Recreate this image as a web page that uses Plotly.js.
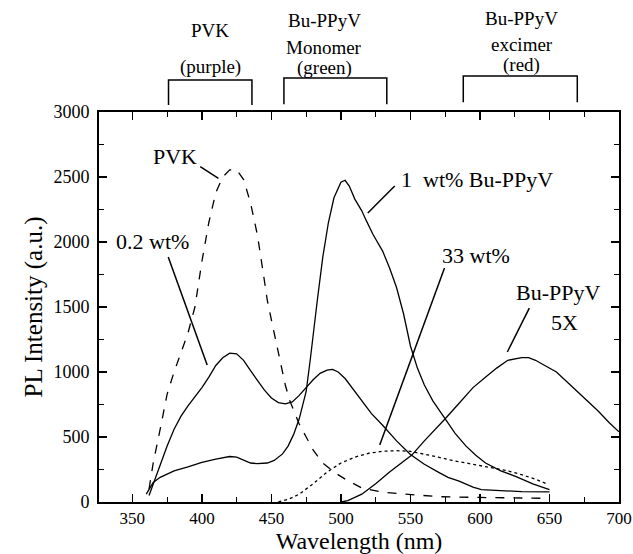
<!DOCTYPE html>
<html>
<head>
<meta charset="utf-8">
<script src="https://cdn.plot.ly/plotly-3.0.1.min.js"></script>
<style>html,body{margin:0;padding:0;background:#fff;}#chart{width:633px;height:554px;}</style>
</head>
<body>
<div id="chart"></div>
<script>
// PVK (dashed)
const pvkX = [362,365,370,375,380,385,390,395,400,405,410,415,420,425,430,435,440,445,447,450,455,460,463,470,475,480,487,495,504,515,530,545,570,600,630,650];
const pvkY = [100,300,560,830,1000,1150,1300,1500,1850,2150,2380,2500,2555,2555,2480,2300,2050,1700,1554,1400,1150,900,785,600,500,400,300,230,170,108,75,62,41,35,30,28];
// 0.2 wt%
const w02X = [362,366,370,375,380,385,390,395,400,405,410,415,420,425,430,435,440,445,450,455,460,465,470,475,480,485,490,494,498,503,510,516,522,530,540,550,560,570,577,585,595,601,615,630,650];
const w02Y = [50,170,280,430,560,660,740,810,880,960,1050,1110,1145,1140,1090,1010,930,860,800,765,755,770,820,880,940,990,1015,1020,1000,950,850,760,680,590,470,365,290,230,190,160,115,95,85,80,78];
// 1 wt% Bu-PPyV
const w1X = [360,365,370,380,390,400,410,420,425,430,435,440,447,452,458,462,466,470,475,478,480,483,487,491,495,500,503,506,510,515,518,523,530,535,540,545,550,555,560,566,575,582,590,597,604,615,626,638,650];
const w1Y = [60,150,190,240,270,305,330,350,345,320,300,295,300,320,370,430,520,640,850,1100,1300,1550,1887,2150,2340,2460,2475,2430,2330,2240,2170,2060,1930,1800,1650,1450,1200,1030,900,780,640,530,430,360,300,240,195,140,95];
// 33 wt% (dotted)
const w33X = [455,462,470,480,490,500,510,520,530,540,550,560,570,580,590,600,610,620,630,640,648];
const w33Y = [0,20,60,140,230,300,345,375,390,395,390,370,345,320,300,285,265,240,210,175,140];
// Bu-PPyV x5
const buX = [500,505,515,525,535,545,551,560,570,575,585,595,605,612,620,625,630,635,640,645,655,665,675,685,693,700];
const buY = [0,10,60,140,230,315,361,470,580,640,760,880,970,1030,1090,1100,1110,1110,1090,1060,1000,900,800,700,610,540];

// band brackets (nm) and labels above the plot
const bandStart = [376, 459, 588];
const bandEnd = [436, 533, 670];
const bandLabels = [["PVK","(purple)"],["Bu-PPyV","Monomer","(green)"],["Bu-PPyV","excimer","(red)"]];

// curve labels and pointer lines (data coords)
const labelText = ["PVK","0.2 wt%","1&nbsp;&nbsp;wt% Bu-PPyV","33 wt%","Bu-PPyV","5X"];
const labelX = [381, 364.7, 598, 597.5, 656, 661];
const labelY = [2654, 2002, 2477, 1900, 1608, 1377];
const ptrX0 = [398.8, 375.8, 538.7, 574.5, 635.5];
const ptrY0 = [2579, 1885, 2431, 1800, 1492];
const ptrX1 = [411.9, 403.8, 519.3, 527.9, 619.7];
const ptrY1 = [2490, 1054, 2223, 438, 1154];

const FONT = "Liberation Serif";
const line = (x, y, dash) => ({x, y, type:'scatter', mode:'lines', line:{color:'#000', width:1.3, dash}, hoverinfo:'skip', showlegend:false});

const traces = [
  line(pvkX, pvkY, 'dash'),
  line(w02X, w02Y, 'solid'),
  line(w1X, w1Y, 'solid'),
  line(w33X, w33Y, 'dot'),
  line(buX, buY, 'solid')
];

const shapes = [];
const annotations = [];
// brackets
const bTop = [1.082, 1.087, 1.092];
const bBot = [1.018, 1.020, 1.025];
for (let i = 0; i < bandStart.length; i++) {
  shapes.push({type:'path', xref:'x', yref:'paper',
    path:`M ${bandStart[i]} ${bBot[i]} L ${bandStart[i]} ${bTop[i]} L ${bandEnd[i]} ${bTop[i]} L ${bandEnd[i]} ${bBot[i]}`,
    line:{color:'#000', width:1.5}});
}
// band labels
const bandLabelY = [[1.21, 1.115],[1.235, 1.165, 1.112],[1.24, 1.172, 1.12]];
const bandLabelX = [406, 488, 630];
for (let i = 0; i < bandLabels.length; i++) {
  bandLabels[i].forEach((t, j) => {
    annotations.push({text:t, xref:'x', yref:'paper', x:bandLabelX[i], y:bandLabelY[i][j], showarrow:false,
      font:{family:FONT, size:19, color:'#000'}, xanchor:'center', yanchor:'middle'});
  });
}
// curve labels
for (let i = 0; i < labelText.length; i++) {
  annotations.push({text:labelText[i], xref:'x', yref:'y', x:labelX[i], y:labelY[i], showarrow:false,
    font:{family:FONT, size:22, color:'#000'}, xanchor:'center', yanchor:'middle'});
}
for (let i = 0; i < ptrX0.length; i++) {
  shapes.push({type:'line', xref:'x', yref:'y', x0:ptrX0[i], y0:ptrY0[i], x1:ptrX1[i], y1:ptrY1[i], line:{color:'#000', width:1.5}});
}

const axisCommon = {
  showline:true, linecolor:'#000', linewidth:2, mirror:'ticks',
  ticks:'inside', ticklen:8, tickwidth:1.5, tickcolor:'#000',
  showgrid:false, zeroline:false,
  tickfont:{family:FONT, size:18, color:'#000'}
};

const layout = {
  width:633, height:554,
  margin:{l:99, r:14, t:112, b:52},
  paper_bgcolor:'#fff', plot_bgcolor:'#fff',
  font:{family:FONT, color:'#000'},
  xaxis:Object.assign({}, axisCommon, {
    range:[326, 700], tick0:350, dtick:50,
    minor:{dtick:25, ticks:'inside', ticklen:5, tickwidth:1.2, tickcolor:'#000'},
    tickfont:{family:FONT, size:17, color:'#000'},
    title:{text:'Wavelength (nm)', font:{family:FONT, size:24, color:'#000'}, standoff:4},
    ticklabelstandoff:0, automargin:false
  }),
  yaxis:Object.assign({}, axisCommon, {
    range:[0, 3000], tick0:0, dtick:500,
    minor:{dtick:250, ticks:'inside', ticklen:5, tickwidth:1.2, tickcolor:'#000'},
    title:{text:'PL Intensity (a.u.)', font:{family:FONT, size:25, color:'#000'}, standoff:4},
    ticklabelstandoff:4, automargin:false
  }),
  shapes, annotations,
  showlegend:false
};

Plotly.newPlot('chart', traces, layout, {displayModeBar:false, staticPlot:true});
</script>
</body>
</html>
